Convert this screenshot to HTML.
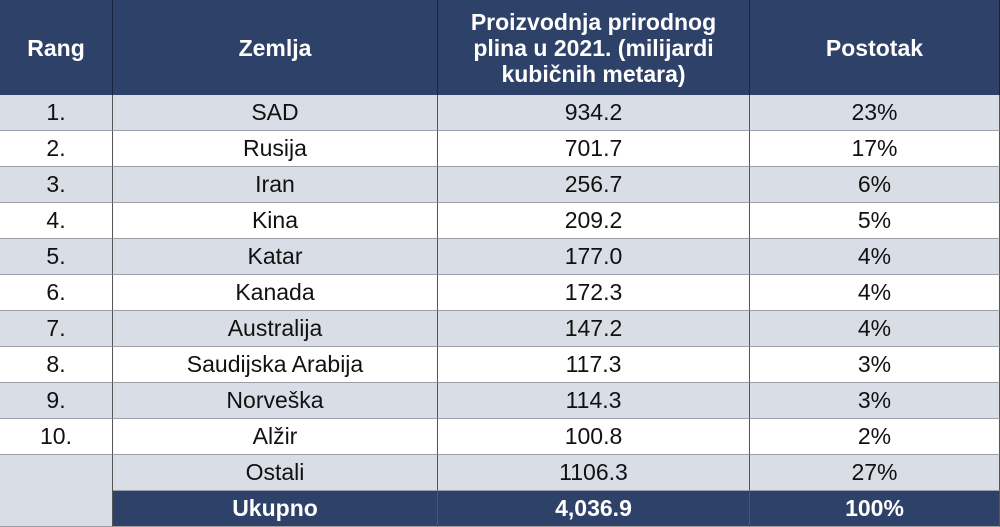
<!DOCTYPE html>
<html><head><meta charset="utf-8">
<style>
body{margin:0;width:1000px;height:527px;overflow:hidden;background:#fff;font-family:"Liberation Sans Narrow","Liberation Sans",sans-serif;}
.c{position:absolute;box-sizing:border-box;display:flex;align-items:center;justify-content:center;text-align:center;font-size:23px;color:#111;border-right:1px solid #555;border-bottom:1px solid #9a9ea6;}
.h{background:#2e4168;color:#fff;font-weight:bold;border-right:1px solid #1a2640;border-bottom:none;line-height:26px;}
.g{background:#d9dde6;}
.t{background:#2e4168;color:#fff;font-weight:bold;}
</style></head><body>
<div id="tbl"></div>
<script>
const ranks=["1.","2.","3.","4.","5.","6.","7.","8.","9.","10."];
const countries=["SAD","Rusija","Iran","Kina","Katar","Kanada","Australija","Saudijska Arabija","Norveška","Alžir"];
const values=["934.2","701.7","256.7","209.2","177.0","172.3","147.2","117.3","114.3","100.8"];
const percents=["23%","17%","6%","5%","4%","4%","4%","3%","3%","2%"];
const cols=[0,113,438,750,1000];
const tbl=document.getElementById('tbl');
function cell(x0,x1,y0,y1,txt,cls,name){
  const d=document.createElement('div');
  d.className='c '+cls;
  d.style.left=x0+'px';d.style.top=y0+'px';d.style.width=(x1-x0)+'px';d.style.height=(y1-y0)+'px';
  d.innerHTML=txt;
  
  
  tbl.appendChild(d);
}
const heads=["Rang","Zemlja","Proizvodnja prirodnog<br>plina u 2021. (milijardi<br>kubičnih metara)","Postotak"];
const hn=["header-rang","header-zemlja","header-proizvodnja","header-postotak"];
for(let i=0;i<4;i++)cell(cols[i],cols[i+1],0,95,heads[i],'h',hn[i]);
const rh=36;
for(let r=0;r<ranks.length;r++){
  const y0=95+r*rh,y1=y0+rh,cls=r%2===0?'g':'';
  cell(cols[0],cols[1],y0,y1,ranks[r],cls,'rank-cell');
  cell(cols[1],cols[2],y0,y1,countries[r],cls,'country-cell');
  cell(cols[2],cols[3],y0,y1,values[r],cls,'value-cell');
  cell(cols[3],cols[4],y0,y1,percents[r],cls,'percent-cell');
}
const yo=95+ranks.length*rh;
cell(cols[0],cols[1],yo,527,'','g','empty-rank-cell');
cell(cols[1],cols[2],yo,yo+rh,'Ostali','g','others-label');
cell(cols[2],cols[3],yo,yo+rh,'1106.3','g','others-value');
cell(cols[3],cols[4],yo,yo+rh,'27%','g','others-percent');
cell(cols[1],cols[2],yo+rh,527,'Ukupno','t','total-label');
cell(cols[2],cols[3],yo+rh,527,'4,036.9','t','total-value');
cell(cols[3],cols[4],yo+rh,527,'100%','t','total-percent');
</script>
</body></html>
